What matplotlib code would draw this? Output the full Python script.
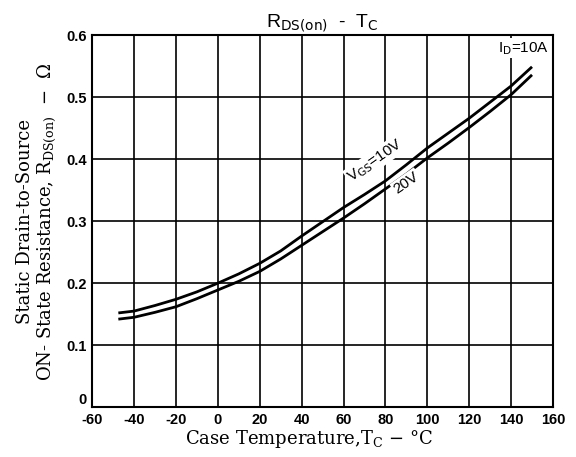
import matplotlib
matplotlib.use('Agg')
import matplotlib.pyplot as plt

# 读图得到的数据（Tc, RDS(on)）
temp = [-47.5, -40, -30, -20, -10, 0, 10, 20, 30, 40, 50, 60, 70, 80,
        90, 100, 110, 120, 130, 140, 150]
r_vgs10 = [0.152, 0.155, 0.164, 0.174, 0.186, 0.200, 0.215, 0.232, 0.252, 0.276,
           0.299, 0.322, 0.343, 0.365, 0.391, 0.418, 0.442, 0.466, 0.492, 0.518, 0.549]
r_vgs20 = [0.142, 0.145, 0.153, 0.162, 0.175, 0.189, 0.203, 0.219, 0.239, 0.261,
           0.283, 0.305, 0.328, 0.352, 0.376, 0.402, 0.426, 0.451, 0.477, 0.504, 0.536]

x_ticks = [-60, -40, -20, 0, 20, 40, 60, 80, 100, 120, 140, 160]
y_ticks = [0, 0.1, 0.2, 0.3, 0.4, 0.5, 0.6]
y_ticklabels = ["0", "0.1", "0.2", "0.3", "0.4", "0.5", "0.6"]

fig = plt.figure(figsize=(5.76, 4.57), dpi=100)
ax = fig.add_axes([0.160, 0.109, 0.800, 0.814])

ax.plot(temp, r_vgs10, color='black', linewidth=2.0, solid_capstyle='butt')
ax.plot(temp, r_vgs20, color='black', linewidth=2.0, solid_capstyle='butt')

ax.set_xlim(-60, 160)
ax.set_ylim(0, 0.6)
ax.set_xticks(x_ticks)
ax.set_yticks(y_ticks)
ax.set_xticklabels([str(v) for v in x_ticks], family='Liberation Sans',
                   fontsize=10.5, fontweight='bold')
ax.set_yticklabels(y_ticklabels, family='Liberation Sans',
                   fontsize=10.5, fontweight='bold')
ax.tick_params(length=0, pad=4)
# "0" 稍微上移，避免和 -60 重叠
ax.get_yticklabels()[0].set_verticalalignment('bottom')
ax.grid(True, color='black', linewidth=1.2)
ax.set_axisbelow(True)
for s in ax.spines.values():
    s.set_linewidth(1.5)

ax.set_xlabel(r"Case Temperature,T$_\mathrm{C}$ $-$ °C", family='DejaVu Serif',
              fontsize=13, math_fontfamily='dejavuserif', labelpad=2)
ax.xaxis.set_label_coords(0.47, -0.055)
ax.set_ylabel("Static Drain-to-Source\nON- State Resistance, R$_\\mathrm{DS(on)}$  $-$  Ω",
              family='DejaVu Serif', fontsize=13, math_fontfamily='dejavuserif',
              labelpad=6, linespacing=1.05)

ax.set_title(r"R$_\mathsf{DS(on)}$  -  T$_\mathsf{C}$", family='Liberation Sans',
             fontsize=14, math_fontfamily='dejavusans', pad=6)

bbox = dict(facecolor='white', edgecolor='none', pad=1)
ax.text(75, 0.398, r"V$_\mathsf{GS}$=10V", rotation=35, ha='center', va='center',
        family='Liberation Sans', fontsize=11, math_fontfamily='dejavusans', bbox=bbox)
ax.text(90, 0.362, "20V", rotation=35, ha='center', va='center',
        family='Liberation Sans', fontsize=11, bbox=bbox)
ax.text(146, 0.579, r"I$_\mathsf{D}$=10A", ha='center', va='center',
        family='Liberation Sans', fontsize=11, math_fontfamily='dejavusans', bbox=bbox)

fig.savefig("out.png", dpi=100)
